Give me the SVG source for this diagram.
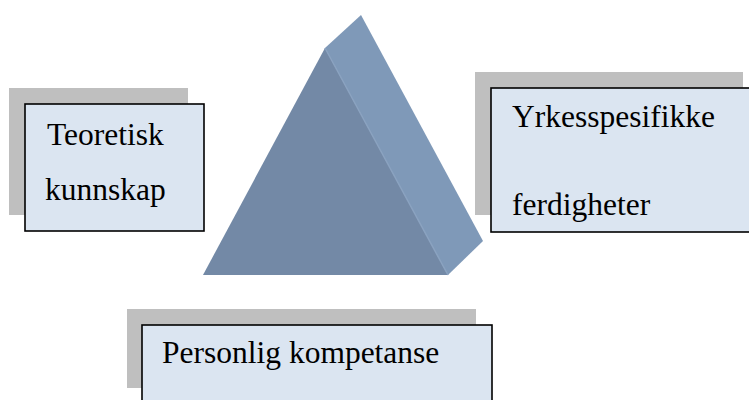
<svg xmlns="http://www.w3.org/2000/svg" width="749" height="400" viewBox="0 0 749 400">
<style>
.shadow{fill:#bfbfbf}
.box{fill:#dbe5f1;stroke:#000;stroke-width:1.6}
.lbl{font-family:"Liberation Serif","Times New Roman",serif;font-size:31.5px;fill:#000}
</style>
<rect width="749" height="400" fill="#fff"/>
<g id="pyramid">
<polygon points="325,48 361,15 483,241 448,275" fill="#7f99b8"/>
<polygon points="325,48 448,275 203,275" fill="#7389a6"/>
<line x1="325" y1="48" x2="448" y2="275" stroke="#8aa2c0" stroke-width="1.5"/>
</g>
<g id="teoretisk">
<rect class="shadow" x="9" y="88" width="179" height="127"/>
<rect class="box" x="25" y="104" width="179" height="127"/>
<text class="lbl" x="47" y="145">Teoretisk</text>
<text class="lbl" x="45" y="200">kunnskap</text>
</g>
<g id="yrkes">
<rect class="shadow" x="475" y="72" width="268" height="143"/>
<rect class="box" x="491" y="88" width="260" height="144"/>
<text class="lbl" x="512" y="127">Yrkesspesifikke</text>
<text class="lbl" x="512" y="215">ferdigheter</text>
</g>
<g id="personlig">
<rect class="shadow" x="127" y="309" width="349" height="79"/>
<rect class="box" x="142" y="325" width="350" height="90"/>
<text class="lbl" x="162" y="363">Personlig kompetanse</text>
</g>
<g id="connectors"></g>
</svg>
